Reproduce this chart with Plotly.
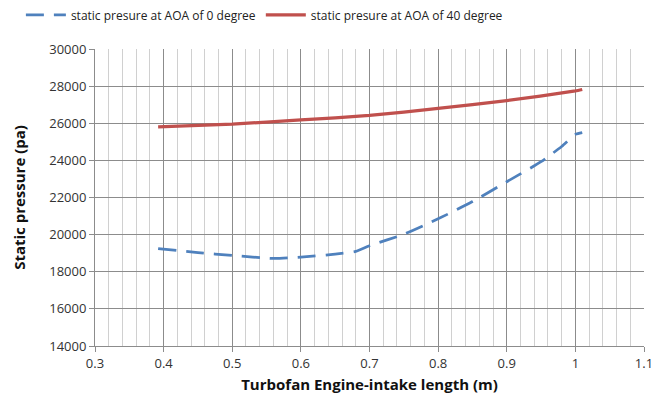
import plotly.graph_objects as go

# Data
x_aoa0 = [0.392, 0.45, 0.5, 0.56, 0.6, 0.65, 0.68, 0.7, 0.75, 0.8, 0.85, 0.9, 0.95, 0.98, 1.0, 1.01]
p_aoa0 = [19250, 19030, 18880, 18720, 18790, 18950, 19100, 19400, 20020, 20850, 21780, 22850, 23930, 24750, 25400, 25500]

x_aoa40 = [0.392, 0.5, 0.6, 0.7, 0.8, 0.9, 1.0, 1.01]
p_aoa40 = [25800, 25950, 26180, 26420, 26800, 27220, 27740, 27820]

name0 = "static presure at AOA of 0 degree"
name40 = "static presure at AOA of 40 degree"

x_ticks = [0.3, 0.4, 0.5, 0.6, 0.7, 0.8, 0.9, 1.0, 1.1]
x_tick_labels = ["0.3", "0.4", "0.5", "0.6", "0.7", "0.8", "0.9", "1", "1.1"]
y_ticks = [14000, 16000, 18000, 20000, 22000, 24000, 26000, 28000, 30000]
y_tick_labels = [str(v) for v in y_ticks]

FONT = "Open Sans"

fig = go.Figure()
fig.add_trace(go.Scatter(
    x=x_aoa0, y=p_aoa0, mode="lines", name=name0,
    line=dict(color="#4F81BD", width=2.75, dash="18px,10px", shape="spline", smoothing=0.6),
))
fig.add_trace(go.Scatter(
    x=x_aoa40, y=p_aoa40, mode="lines", name=name40,
    line=dict(color="#C0504D", width=3.25, shape="spline", smoothing=0.5),
))

fig.update_layout(
    width=670, height=402,
    margin=dict(l=95, r=26, t=49, b=56, autoexpand=False),
    paper_bgcolor="white", plot_bgcolor="white",
    font=dict(family=FONT, size=12, color="#333333"),
    legend=dict(orientation="h", x=-0.135, xanchor="left", y=1.066, yanchor="bottom",
                font=dict(family=FONT, size=12, color="#222222"),
                itemwidth=40, tracegroupgap=0, bgcolor="rgba(0,0,0,0)"),
    showlegend=True,
)
fig.update_xaxes(
    range=[0.3, 1.1], tickvals=x_ticks, ticktext=x_tick_labels,
    showgrid=True, gridcolor="#8c8c8c", gridwidth=1,
    minor=dict(dtick=0.02, showgrid=True, gridcolor="#d0d0d0", gridwidth=1),
    showline=True, linecolor="#8c8c8c", linewidth=1,
    ticks="outside", ticklen=5, tickcolor="#8c8c8c",
    tickfont=dict(family=FONT, size=13, color="#333333"),
    zeroline=False, automargin=False,
    title=dict(text="<b>Turbofan Engine-intake length (m)</b>", standoff=8,
               font=dict(family=FONT, size=15, color="#111111")),
)
fig.update_yaxes(
    range=[14000, 30000], tickvals=y_ticks, ticktext=y_tick_labels,
    showgrid=True, gridcolor="#8c8c8c", gridwidth=1,
    showline=True, linecolor="#8c8c8c", linewidth=1,
    ticks="outside", ticklen=5, tickcolor="#8c8c8c",
    tickfont=dict(family=FONT, size=13, color="#333333"),
    zeroline=False, automargin=True,
    title=dict(text="<b>Static pressure (pa)</b>", standoff=19,
               font=dict(family=FONT, size=15, color="#111111")),
)

fig.write_html("out.html")
